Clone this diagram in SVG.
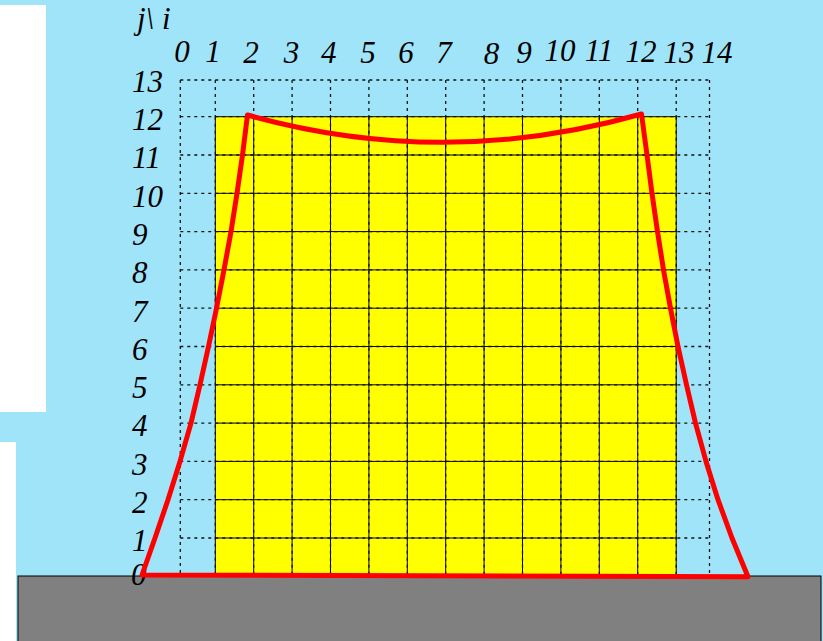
<svg xmlns="http://www.w3.org/2000/svg" width="823" height="641" viewBox="0 0 823 641">
<style>
.lbl{font-family:"Liberation Serif","Times New Roman",serif;font-style:italic;font-size:31px;fill:#000}
.ilbl{text-anchor:middle}
.solid{stroke:#000;stroke-width:1;fill:none}
.dot{stroke:#111;stroke-width:1.3;stroke-dasharray:3 4;fill:none}
.red{stroke:#ff0000;stroke-width:5;fill:none;stroke-linejoin:round;stroke-linecap:round}
</style>
<rect x="0" y="0" width="823" height="641" fill="#a0e4fa"/>
<rect x="0" y="5" width="46" height="407" fill="#ffffff"/>
<rect x="0" y="442" width="16" height="199" fill="#ffffff"/>
<g id="yellow-block">
<rect x="215.3" y="116.7" width="460.9" height="459.3" fill="#ffff00" stroke="#000" stroke-width="1"/>
<path class="solid" d="M253.7 116.7V576M292.1 116.7V576M330.5 116.7V576M368.9 116.7V576M407.3 116.7V576M445.7 116.7V576M484.1 116.7V576M522.5 116.7V576M560.9 116.7V576M599.3 116.7V576M637.7 116.7V576"/>
<path class="solid" d="M215.3 155H676.2M215.3 193.3H676.2M215.3 231.6H676.2M215.3 269.9H676.2M215.3 308.2H676.2M215.3 346.5H676.2M215.3 384.8H676.2M215.3 423.1H676.2M215.3 461.4H676.2M215.3 499.7H676.2M215.3 538H676.2"/>
</g>
<g id="dotted-grid">
<path class="dot" d="M180.3 80V574M709.5 80V574M215.3 80V116.7M253.7 80V116.7M292.1 80V116.7M330.5 80V116.7M368.9 80V116.7M407.3 80V116.7M445.7 80V116.7M484.1 80V116.7M522.5 80V116.7M560.9 80V116.7M599.3 80V116.7M637.7 80V116.7M676.2 80V116.7"/>
<path class="dot" d="M180.3 80H709.5M180.3 116.7H709.5M180.3 155H709.5M180.3 193.3H709.5M180.3 231.6H709.5M180.3 269.9H709.5M180.3 308.2H709.5M180.3 346.5H709.5M180.3 384.8H709.5M180.3 423.1H709.5M180.3 461.4H709.5M180.3 499.7H709.5M180.3 538H709.5"/>
<path class="dot" d="M253.7 116.7V576M292.1 116.7V576M330.5 116.7V576M368.9 116.7V576M407.3 116.7V576M445.7 116.7V576M484.1 116.7V576M522.5 116.7V576M560.9 116.7V576M599.3 116.7V576M637.7 116.7V576M215.3 116.7V576M676.2 116.7V576"/>
</g>
<g id="ground">
<rect x="18" y="576" width="803" height="70" fill="#808080" stroke="#000" stroke-width="1"/>
</g>
<g id="labels">
<text class="lbl" x="137" y="29">j\ i</text>
<text class="lbl ilbl" x="182" y="62">0</text>
<text class="lbl ilbl" x="213" y="62">1</text>
<text class="lbl ilbl" x="251" y="63">2</text>
<text class="lbl ilbl" x="291.5" y="63">3</text>
<text class="lbl ilbl" x="328.7" y="63">4</text>
<text class="lbl ilbl" x="368" y="63">5</text>
<text class="lbl ilbl" x="406" y="63">6</text>
<text class="lbl ilbl" x="444" y="62.5">7</text>
<text class="lbl ilbl" x="491.5" y="64">8</text>
<text class="lbl ilbl" x="524" y="63">9</text>
<text class="lbl ilbl" x="560" y="61">10</text>
<text class="lbl ilbl" x="599" y="61">11</text>
<text class="lbl ilbl" x="641" y="61.5">12</text>
<text class="lbl ilbl" x="679" y="62.5">13</text>
<text class="lbl ilbl" x="717" y="62.5">14</text>
<text class="lbl" x="132" y="91.7">13</text>
<text class="lbl" x="132" y="130">12</text>
<text class="lbl" x="132" y="168.3">11</text>
<text class="lbl" x="132" y="206.6">10</text>
<text class="lbl" x="132" y="244.9">9</text>
<text class="lbl" x="132" y="283.2">8</text>
<text class="lbl" x="132" y="321.5">7</text>
<text class="lbl" x="132" y="359.8">6</text>
<text class="lbl" x="132" y="398.1">5</text>
<text class="lbl" x="132" y="436.4">4</text>
<text class="lbl" x="132" y="474.7">3</text>
<text class="lbl" x="132" y="513">2</text>
<text class="lbl" x="132" y="551.3">1</text>
<text class="lbl" x="131" y="585">0</text>
</g>
<g id="connectors">
<path class="red" d="M142 575L748 576.7L732 538L718 499.7L706 461.4L695.5 423.1L686.5 384.8L678 346.5L670.5 308.2L663.5 269.9L657.5 231.6L652 193.3L647 155L641.5 114Q444 170 247.5 115L242.5 155L237 193.3L231 231.6L224 269.9L216.5 308.2L208.5 346.5L200 384.8L191 423.1L180 461.4L168 499.7L155 538Z"/>
</g>
</svg>
